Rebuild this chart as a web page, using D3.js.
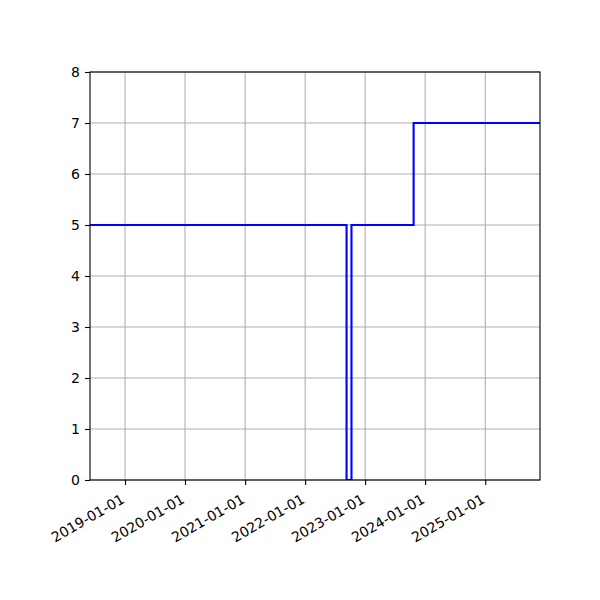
<!DOCTYPE html>
<html>
<head>
<meta charset="utf-8">
<script src="https://cdn.jsdelivr.net/npm/d3@7"></script>
<style>
  body { margin: 0; background: #fff; }
  svg text { font-family: "DejaVu Sans", sans-serif; font-size: 14px; fill: #000; }
</style>
</head>
<body>
<svg width="600" height="600"></svg>
<script>
// step data (drawn as "post" steps)
var stepDates = ["2018-06-02", "2022-09-10", "2022-10-10", "2023-10-23", "2025-11-30"];
var stepValues = [5, 0, 5, 7, 7];
var xLimits = ["2018-06-02", "2025-11-30"];
var yTicks = [0, 1, 2, 3, 4, 5, 6, 7, 8];
var xTicks = ["2019-01-01", "2020-01-01", "2021-01-01", "2022-01-01", "2023-01-01", "2024-01-01", "2025-01-01"];

var parse = d3.utcParse("%Y-%m-%d");
var fmt = d3.utcFormat("%Y-%m-%d");

var svg = d3.select("svg"),
    margin = {top: 72, right: 60, bottom: 120, left: 90},
    width = 600 - margin.left - margin.right,
    height = 600 - margin.top - margin.bottom,
    g = svg.append("g").attr("transform", "translate(" + margin.left + "," + margin.top + ")");

var data = stepDates.map(function(d, i) { return {date: parse(d), value: stepValues[i]}; });

var x = d3.scaleUtc()
    .domain(xLimits.map(parse))
    .range([0, width]);

var y = d3.scaleLinear()
    .domain([0, 8])
    .range([height, 0]);

// grid
g.append("g")
  .selectAll("line")
  .data(xTicks.map(parse))
  .enter().append("line")
    .attr("x1", function(d) { return x(d); })
    .attr("x2", function(d) { return x(d); })
    .attr("y1", 0)
    .attr("y2", height)
    .attr("stroke", "#b0b0b0")
    .attr("stroke-width", 1.1);

g.append("g")
  .selectAll("line")
  .data(yTicks)
  .enter().append("line")
    .attr("x1", 0)
    .attr("x2", width)
    .attr("y1", function(d) { return y(d); })
    .attr("y2", function(d) { return y(d); })
    .attr("stroke", "#b0b0b0")
    .attr("stroke-width", 1.1);

g.append("clipPath").attr("id", "clip")
  .append("rect").attr("width", width).attr("height", height);

var line = d3.line()
    .x(function(d) { return x(d.date); })
    .y(function(d) { return y(d.value); })
    .curve(d3.curveStepAfter);

g.append("path")
    .datum(data)
    .attr("clip-path", "url(#clip)")
    .attr("fill", "none")
    .attr("stroke", "#0000ff")
    .attr("stroke-width", 2.1)
    .attr("d", line);

// axes
var xAxis = g.append("g")
    .attr("transform", "translate(0," + height + ")")
    .call(d3.axisBottom(x).tickValues(xTicks.map(parse)).tickFormat(fmt).tickSizeInner(5).tickSizeOuter(0).tickPadding(5));

// rotated like autofmt_xdate: right end of label sits under the tick
xAxis.selectAll(".tick text")
    .attr("text-anchor", "end")
    .attr("x", 0)
    .attr("y", 0)
    .attr("dy", 0)
    .attr("transform", "translate(0,22) rotate(-30)");

var yAxis = g.append("g")
    .call(d3.axisLeft(y).tickValues(yTicks).tickFormat(d3.format("d")).tickSizeInner(5).tickSizeOuter(0).tickPadding(5));

g.selectAll(".domain").remove();
g.selectAll(".tick line").attr("stroke", "#000").attr("stroke-width", 1.1);
g.selectAll(".tick text").style("font-size", "14px").attr("fill", "#000");

g.append("rect")
    .attr("width", width)
    .attr("height", height)
    .attr("fill", "none")
    .attr("stroke", "#000")
    .attr("stroke-width", 1.1);
</script>
</body>
</html>
